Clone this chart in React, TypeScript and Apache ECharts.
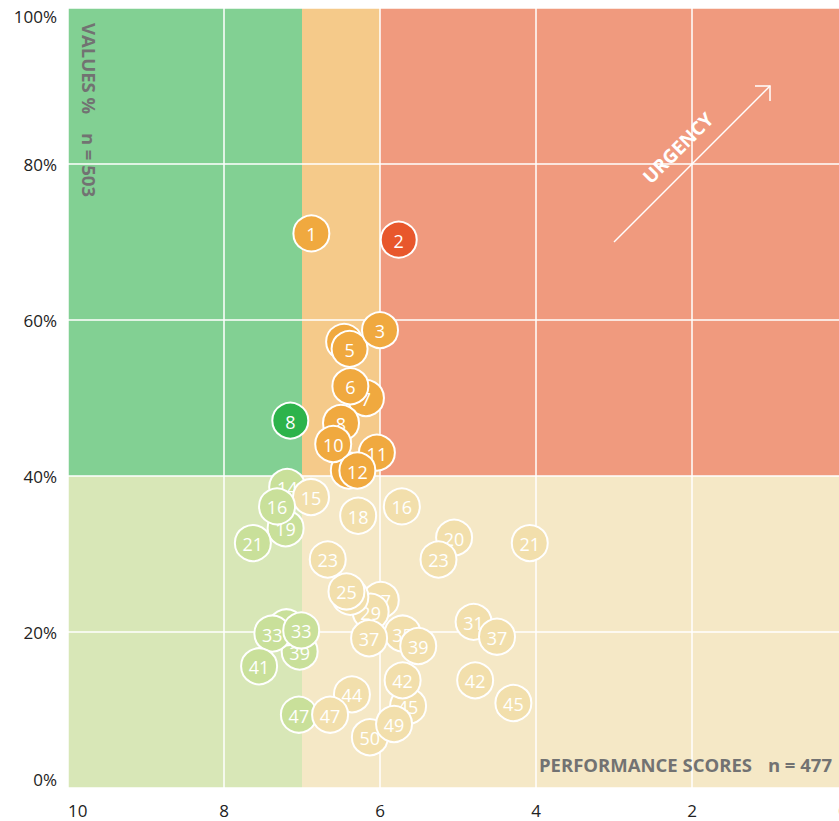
import React, { useEffect, useRef } from 'react';
import * as echarts from 'echarts';

// ---- axis ticks ----
const X_MIN = 0;
const X_MAX = 10;
const X_INTERVAL = 2;
const Y_MIN = 0;
const Y_MAX = 100;
const Y_INTERVAL = 20;

// ---- background zones ----
const ZONE_X0 = [10, 7, 6, 10, 7];
const ZONE_X1 = [7, 6, 0, 7, 0];
const ZONE_Y0 = [40, 40, 40, 0, 0];
const ZONE_Y1 = [100, 100, 100, 40, 40];
const ZONE_COLORS = ['#82d093', '#f5ca8a', '#f09a7e', '#d8e7b7', '#f5e8c6'];

// thresholds used to colour bubbles
const X_SPLIT_GREEN = 7;
const X_SPLIT_RED = 6;
const Y_SPLIT = 40;

// ---- bubbles (draw order) ----
const BUBBLE_X = [
  6.88, 5.76, 6.46, 6.39, 6.0, 6.18, 6.38, 6.5, 7.15, 6.4, 6.6, 6.04, 6.29,
  7.19, 6.885, 7.21, 7.32, 7.63, 6.28, 5.72, 5.05, 5.25, 6.67, 4.08,
  5.99, 6.12, 6.38, 6.43, 5.71, 5.51, 6.14, 4.8, 4.5,
  7.03, 7.2, 7.38, 7.01, 7.55, 6.36, 7.04, 6.64, 5.64, 5.71, 6.13, 5.82, 4.78, 4.29,
];
const BUBBLE_Y = [
  71.1, 70.3, 57.2, 56.3, 58.7, 50.0, 51.5, 46.8, 47.1, 40.7, 44.1, 43.0, 40.7,
  38.6, 37.3, 33.3, 36.1, 31.4, 34.9, 36.1, 32.1, 29.3, 29.3, 31.4,
  24.1, 22.6, 24.5, 25.2, 19.8, 18.2, 19.2, 21.3, 19.4,
  17.5, 20.6, 19.8, 20.2, 15.6, 12.0, 9.4, 9.4, 10.5, 13.8, 6.5, 8.2, 13.8, 10.9,
];
const BUBBLE_LABELS = [
  '1', '2', '4', '5', '3', '7', '6', '8', '8', '13', '10', '11', '12',
  '14', '15', '19', '16', '21', '18', '16', '20', '23', '23', '21',
  '27', '29', '26', '25', '35', '39', '37', '31', '37',
  '39', '35', '33', '33', '41', '44', '47', '47', '45', '42', '50', '49', '42', '45',
];

// ---- urgency arrow ----
const ARROW_FROM = [3, 70];
const ARROW_TO = [1, 90];

function bubbleColor(x: number, y: number): string {
  if (y >= Y_SPLIT) {
    if (x > X_SPLIT_GREEN) return '#2db34b';
    if (x >= X_SPLIT_RED) return '#f0a93f';
    return '#e8572c';
  }
  return x > X_SPLIT_GREEN ? '#c9e09a' : '#f2dfac';
}

const FONT = "'Open Sans', 'Noto Sans', sans-serif";
const NOTE_FONT = `bold 18.5px ${FONT}`;

export default function App() {
  const ref = useRef<HTMLDivElement>(null);
  useEffect(() => {
    const chart = echarts.init(ref.current!, null, { renderer: 'svg' });
    const option: any = {
      animation: false,
      grid: { left: 68, top: 8, width: 780, height: 780, show: false },
      xAxis: {
        type: 'value',
        inverse: true,
        min: X_MIN,
        max: X_MAX,
        interval: X_INTERVAL,
        axisLine: { show: false },
        axisTick: { show: false },
        splitLine: { show: true, lineStyle: { color: '#ffffff', width: 1.5 } },
        axisLabel: {
          margin: 14,
          fontSize: 17,
          color: '#222',
          fontFamily: FONT,
          alignMinLabel: 'right',
          alignMaxLabel: 'left',
        },
      },
      yAxis: {
        type: 'value',
        min: Y_MIN,
        max: Y_MAX,
        interval: Y_INTERVAL,
        axisLine: { show: false },
        axisTick: { show: false },
        splitLine: { show: true, lineStyle: { color: '#ffffff', width: 1.5 } },
        axisLabel: {
          margin: 11,
          fontSize: 17,
          color: '#222',
          fontFamily: FONT,
          formatter: '{value}%',
          verticalAlignMinLabel: 'bottom',
          verticalAlignMaxLabel: 'top',
        },
      },
      series: [
        {
          type: 'custom',
          z: -1,
          silent: true,
          data: ZONE_X0.map((x0, i) => [x0, ZONE_Y0[i], ZONE_X1[i], ZONE_Y1[i], i]),
          encode: { x: [0, 2], y: [1, 3] },
          renderItem: (params: any, api: any) => {
            const a = api.coord([api.value(0), api.value(1)]);
            const b = api.coord([api.value(2), api.value(3)]);
            return {
              type: 'rect',
              shape: {
                x: Math.min(a[0], b[0]),
                y: Math.min(a[1], b[1]),
                width: Math.abs(a[0] - b[0]),
                height: Math.abs(a[1] - b[1]),
              },
              style: { fill: ZONE_COLORS[api.value(4)] },
            };
          },
        },
        {
          type: 'custom',
          z: 2,
          silent: true,
          data: [[ARROW_FROM[0], ARROW_FROM[1], ARROW_TO[0], ARROW_TO[1]]],
          encode: { x: [0, 2], y: [1, 3] },
          renderItem: (params: any, api: any) => {
            const p0 = api.coord([api.value(0), api.value(1)]);
            const p1 = api.coord([api.value(2), api.value(3)]);
            const mx = (p0[0] + p1[0]) / 2;
            const my = (p0[1] + p1[1]) / 2;
            return {
              type: 'group',
              children: [
                {
                  type: 'line',
                  shape: { x1: p0[0], y1: p0[1], x2: p1[0], y2: p1[1] },
                  style: { stroke: '#fff', lineWidth: 1.5 },
                },
                {
                  type: 'polyline',
                  shape: { points: [[p1[0] - 15, p1[1]], [p1[0], p1[1]], [p1[0], p1[1] + 15]] },
                  style: { stroke: '#fff', lineWidth: 1.5, fill: 'none' },
                },
                {
                  type: 'text',
                  x: mx - 14,
                  y: my - 16,
                  rotation: Math.PI / 4,
                  style: {
                    text: 'URGENCY',
                    fill: '#fff',
                    fontSize: 19,
                    fontWeight: 'bold',
                    fontFamily: FONT,
                    align: 'center',
                    verticalAlign: 'middle',
                  },
                },
              ],
            };
          },
        },
        {
          type: 'custom',
          z: 3,
          silent: true,
          data: BUBBLE_X.map((x, i) => [x, BUBBLE_Y[i], i]),
          encode: { x: 0, y: 1 },
          renderItem: (params: any, api: any) => {
            const x = api.value(0);
            const y = api.value(1);
            const idx = api.value(2);
            const p = api.coord([x, y]);
            return {
              type: 'group',
              children: [
                {
                  type: 'circle',
                  z2: idx * 2,
                  shape: { cx: p[0], cy: p[1], r: 18 },
                  style: { fill: bubbleColor(x, y), stroke: '#fff', lineWidth: 2 },
                },
                {
                  type: 'text',
                  z2: idx * 2 + 1,
                  x: p[0],
                  y: p[1] + 1,
                  style: {
                    text: BUBBLE_LABELS[idx],
                    fill: '#fff',
                    fontSize: 18,
                    fontFamily: FONT,
                    align: 'center',
                    verticalAlign: 'middle',
                  },
                },
              ],
            };
          },
        },
      ],
      graphic: [
        {
          type: 'text',
          x: 89,
          y: 23,
          rotation: -Math.PI / 2,
          z: 10,
          style: {
            text: 'VALUES %',
            fill: '#727272',
            font: NOTE_FONT,
            align: 'left',
            verticalAlign: 'middle',
          },
        },
        {
          type: 'text',
          x: 89,
          y: 197,
          rotation: -Math.PI / 2,
          z: 10,
          style: {
            text: 'n = 503',
            fill: '#727272',
            font: NOTE_FONT,
            align: 'right',
            verticalAlign: 'middle',
          },
        },
        {
          type: 'text',
          x: 539,
          y: 764,
          z: 10,
          style: {
            text: 'PERFORMANCE SCORES',
            fill: '#727272',
            font: NOTE_FONT,
            align: 'left',
            verticalAlign: 'middle',
          },
        },
        {
          type: 'text',
          x: 832,
          y: 764,
          z: 10,
          style: {
            text: 'n = 477',
            fill: '#727272',
            font: NOTE_FONT,
            align: 'right',
            verticalAlign: 'middle',
          },
        },
      ],
    };
    chart.setOption(option);
    return () => chart.dispose();
  }, []);
  return (
    <div
      style={{
        position: 'fixed',
        left: 0,
        top: 0,
        width: 839,
        height: 821,
        overflow: 'hidden',
        background: '#fff',
      }}
    >
      <div ref={ref} style={{ width: 880, height: 821 }} />
    </div>
  );
}
